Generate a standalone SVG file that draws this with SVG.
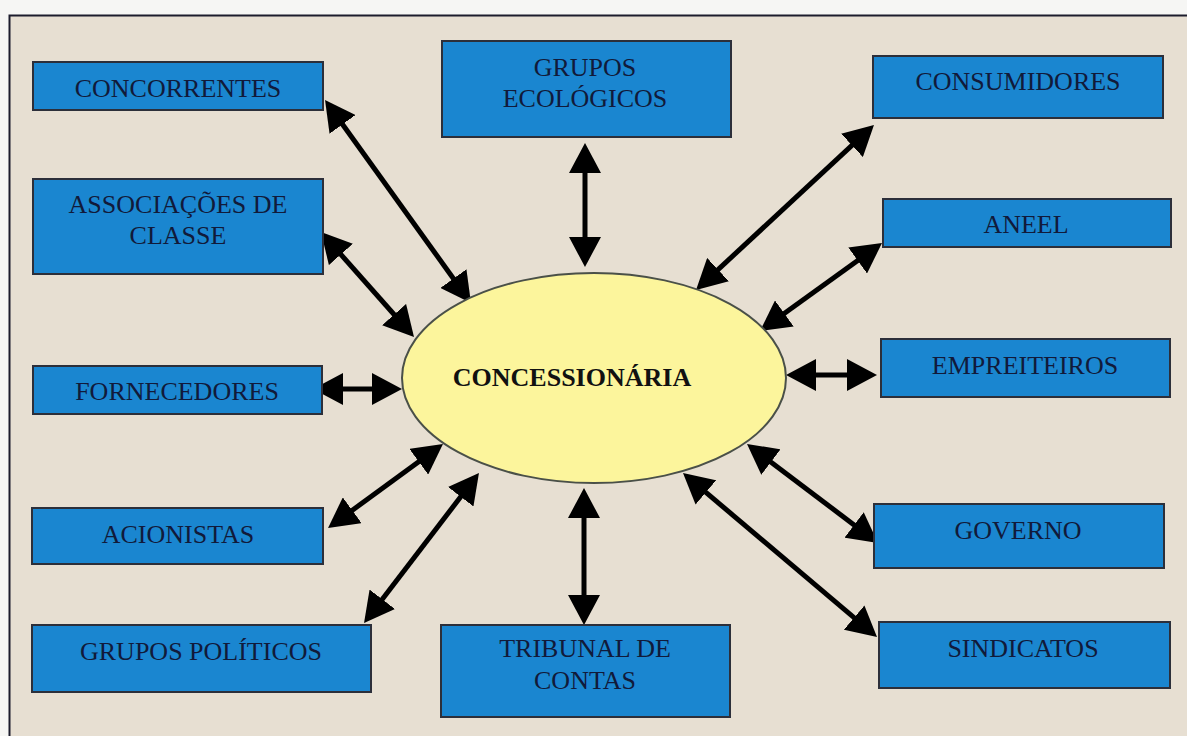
<svg xmlns="http://www.w3.org/2000/svg" width="1187" height="736" viewBox="0 0 1187 736">
<style>
.box{fill:#1a86d0;stroke:#2c2f3a;stroke-width:2}
.lbl{font-family:"Liberation Serif","Times New Roman",serif;font-size:26px;fill:#111a3a;text-anchor:middle}
.ctr{font-family:"Liberation Serif","Times New Roman",serif;font-size:26px;font-weight:bold;fill:#111111;text-anchor:middle}
.arr{stroke:#000;stroke-width:5;fill:none;marker-start:url(#ah);marker-end:url(#ah)}
</style>
<defs>
<marker id="ah" viewBox="0 0 30 32" refX="22" refY="16" markerWidth="30" markerHeight="32" markerUnits="userSpaceOnUse" orient="auto-start-reverse">
<path d="M0,0 L30,16 L0,32 z" fill="#000"/>
</marker>
</defs>
<rect x="0" y="0" width="1187" height="736" fill="#f6f6f4"/>
<rect x="9.5" y="15.5" width="1190" height="740" fill="#e7dfd2" stroke="#1c1c2c" stroke-width="2"/>
<g id="connectors">
<line class="arr" x1="329.7" y1="106.5" x2="466.3" y2="296.5"/>
<line class="arr" x1="326.3" y1="238" x2="408.7" y2="331"/>
<line class="arr" x1="321" y1="389" x2="394" y2="389"/>
<line class="arr" x1="334.5" y1="523.3" x2="436.5" y2="448.7"/>
<line class="arr" x1="368.9" y1="616.7" x2="474.1" y2="479.3"/>
<line class="arr" x1="585" y1="151" x2="585" y2="259"/>
<line class="arr" x1="584" y1="496" x2="584" y2="617"/>
<line class="arr" x1="868.1" y1="130.4" x2="701.9" y2="284.6"/>
<line class="arr" x1="875.5" y1="247.7" x2="766.5" y2="326.3"/>
<line class="arr" x1="794" y1="375" x2="869" y2="375"/>
<line class="arr" x1="753.4" y1="448.8" x2="871.6" y2="538.2"/>
<line class="arr" x1="689.1" y1="478.2" x2="870.9" y2="631.8"/>
</g>
<g id="concessionaria">
<ellipse cx="594" cy="378" rx="192" ry="105" fill="#fcf59c" stroke="#4a5048" stroke-width="2"/>
<text class="ctr" x="572" y="386">CONCESSIONÁRIA</text>
</g>
<g id="concorrentes"><rect class="box" x="33" y="62" width="290" height="48"/><text class="lbl" x="178" y="97">CONCORRENTES</text></g>
<g id="associacoes"><rect class="box" x="33" y="179" width="290" height="95"/><text class="lbl" x="178" y="213">ASSOCIAÇÕES DE</text><text class="lbl" x="178" y="244">CLASSE</text></g>
<g id="fornecedores"><rect class="box" x="33" y="366" width="289" height="48"/><text class="lbl" x="177" y="400">FORNECEDORES</text></g>
<g id="acionistas"><rect class="box" x="32" y="508" width="291" height="56"/><text class="lbl" x="178" y="543">ACIONISTAS</text></g>
<g id="grupos-politicos"><rect class="box" x="32" y="625" width="339" height="67"/><text class="lbl" x="201" y="660">GRUPOS POLÍTICOS</text></g>
<g id="grupos-ecologicos"><rect class="box" x="442" y="41" width="289" height="96"/><text class="lbl" x="585" y="76">GRUPOS</text><text class="lbl" x="585" y="107">ECOLÓGICOS</text></g>
<g id="tribunal"><rect class="box" x="441" y="625" width="289" height="92"/><text class="lbl" x="585" y="657">TRIBUNAL DE</text><text class="lbl" x="585" y="689">CONTAS</text></g>
<g id="consumidores"><rect class="box" x="873" y="56" width="290" height="62"/><text class="lbl" x="1018" y="90">CONSUMIDORES</text></g>
<g id="aneel"><rect class="box" x="883" y="199" width="288" height="48"/><text class="lbl" x="1026" y="233">ANEEL</text></g>
<g id="empreiteiros"><rect class="box" x="881" y="339" width="289" height="58"/><text class="lbl" x="1025" y="374">EMPREITEIROS</text></g>
<g id="governo"><rect class="box" x="874" y="504" width="290" height="64"/><text class="lbl" x="1018" y="539">GOVERNO</text></g>
<g id="sindicatos"><rect class="box" x="879" y="622" width="291" height="66"/><text class="lbl" x="1023" y="657">SINDICATOS</text></g>
</svg>
